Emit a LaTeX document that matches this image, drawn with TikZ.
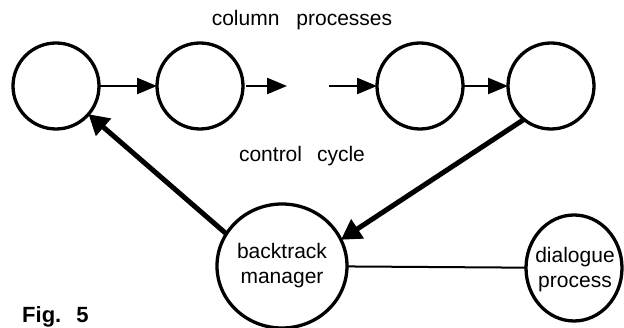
\documentclass[tikz,border=0pt]{standalone}
\usepackage{fontspec}
\setmainfont{Liberation Sans}
\usetikzlibrary{arrows.meta,shapes.geometric}
\begin{document}
\begin{tikzpicture}[x=1pt,y=-1pt,
 proc/.style={circle,draw,line width=3.3pt,minimum size=86pt,inner sep=0pt,outer sep=0pt},
 bigproc/.style={ellipse,draw,line width=3.3pt,inner sep=0pt,outer sep=0pt},
 txt/.style={font=\fontsize{21}{25}\selectfont,inner sep=0pt,align=center},
 lbl/.style={font=\fontsize{21}{25}\selectfont,inner sep=0pt,anchor=base},
 flow/.style={line width=2.4pt,-{Triangle[length=20pt,width=16pt]}},
 ctrl/.style={line width=5pt,-{Triangle[length=20pt,width=22pt]}},
 link/.style={line width=2pt}]
\useasboundingbox (0,0) rectangle (624,328);
% column processes
\node[proc] (c1) at (56,86) {};
\node[proc] (c2) at (200,86) {};
\node[proc] (c3) at (420,86) {};
\node[proc] (c4) at (551,86) {};
\coordinate (g1) at (287,86);
\coordinate (g2) at (329,86);
% manager and dialogue
\node[bigproc,minimum width=130pt,minimum height=124pt] (bm) at (282,266) {};
\node[txt] (bmt) at (282,266) {backtrack\\manager};
\node[bigproc,minimum width=96pt,minimum height=106pt] (dp) at (574,268) {};
\node[txt] (dpt) at (575,270) {dialogue\\process};
% labels
\node[lbl] (lcp) at (302,26) {column\hspace{17pt}processes};
\node[lbl] (lcc) at (302,162) {control\hspace{15pt}cycle};
\node[lbl,anchor=base west,font=\fontsize{22}{26}\selectfont\bfseries] (fig) at (22,323) {Fig.\hspace{15pt}5};
% connectors
\draw[flow] (c1) -- (c2);
\draw[flow,shorten <=3pt] (c2.east) -- (g1);
\draw[flow] (g2) -- (c3.west);
\draw[flow] (c3) -- (c4);
\draw[ctrl] (bm.150) -- (c1.-41);
\draw[ctrl] (c4.231) -- (bm.24);
\draw[link] (bm) -- (dp);
\end{tikzpicture}
\end{document}
